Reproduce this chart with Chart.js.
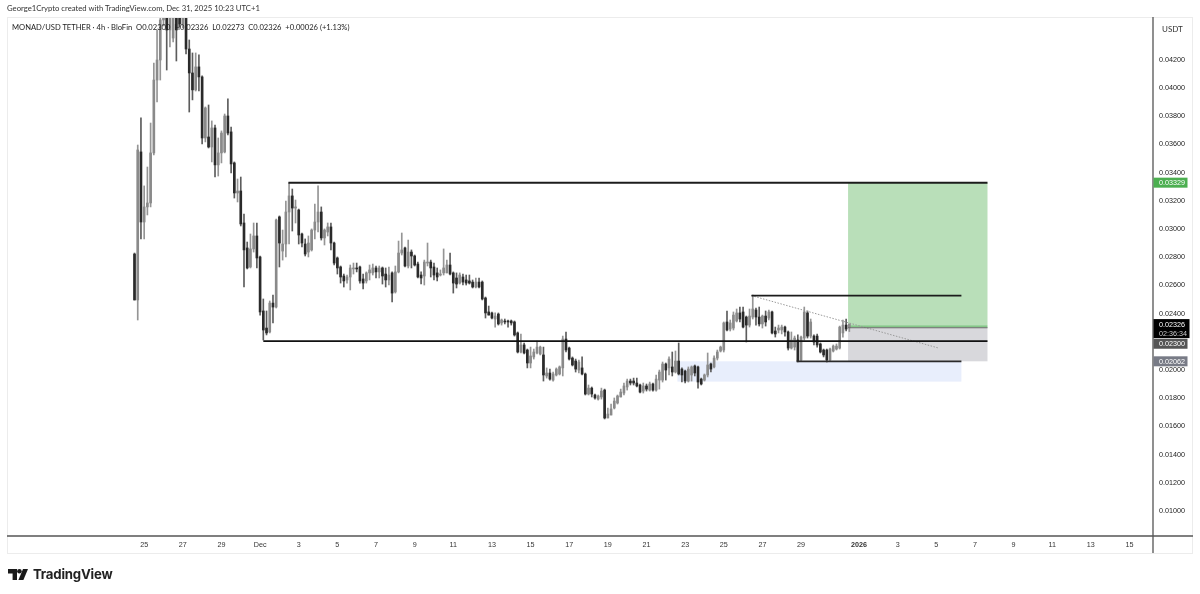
<!DOCTYPE html>
<html>
<head>
<meta charset="utf-8">
<title>MONAD/USD TETHER 4h</title>
<script src="https://cdn.jsdelivr.net/npm/chart.js@4"></script>
<style>
  html, body { margin: 0; padding: 0; background: #fff; }
  #wrap { position: relative; width: 1200px; height: 594px; overflow: hidden; font-family: "Lato", sans-serif; color: #333; }
  #wrap canvas { position: absolute; left: 0; top: 0; }
  .credit { position: absolute; left: 7px; top: 3px; line-height: 10px; font-size: 7.7px; white-space: nowrap; color: #333; }
  .legend { position: absolute; left: 12px; top: 22px; line-height: 10px; font-size: 7.6px; white-space: nowrap; color: #222; }
  .unit { position: absolute; left: 1162px; top: 24px; line-height: 10px; font-size: 8px; color: #333; }
  .brand { position: absolute; left: 33px; top: 566px; line-height: 17px; font-size: 13.2px; font-weight: 700; color: #222; font-family: "Inter", sans-serif; letter-spacing: -0.2px; }
  #logo { position: absolute; left: 8px; top: 569px; }
</style>
</head>
<body>
<div id="wrap">
  <canvas id="chart" width="1200" height="594"></canvas>
  <div class="credit">George1Crypto created with TradingView.com, Dec 31, 2025 10:23 UTC+1</div>
  <div class="legend">MONAD/USD TETHER · 4h · BloFin&nbsp; O0.02300&nbsp; H0.02326&nbsp; L0.02273&nbsp; C0.02326&nbsp; +0.00026 (+1.13%)</div>
  <div class="unit">USDT</div>
  <svg id="logo" width="20" height="11" viewBox="0 0 20 11"><path fill="#1a1a1a" d="M0 0h9v11H4.6V4.4H0z"/><circle cx="11.4" cy="2.3" r="2.3" fill="#1a1a1a"/><path fill="#1a1a1a" d="M15 0h5l-4.6 11h-5z"/></svg>
  <div class="brand">TradingView</div>
</div>
<script>
// 4h candles, first candle = Nov 24 12:00
const opens = [0.02823,0.02497,0.03547,0.03050,0.03157,0.03185,0.03540,0.04057,0.04199,0.04483,0.04590,0.04412,0.04355,0.04554,0.04554,0.04455,0.04526,0.04277,0.04107,0.03987,0.04150,0.04079,0.03646,0.03653,0.03582,0.03717,0.03455,0.03540,0.03547,0.03802,0.03689,0.03469,0.03256,0.03270,0.03043,0.02866,0.02731,0.02859,0.02951,0.02802,0.02419,0.02298,0.02270,0.02475,0.02447,0.03086,0.02844,0.02894,0.03121,0.03235,0.03149,0.03135,0.02965,0.02894,0.02837,0.02852,0.02993,0.03050,0.03121,0.02937,0.02979,0.03015,0.02901,0.02795,0.02731,0.02667,0.02639,0.02660,0.02717,0.02724,0.02731,0.02646,0.02632,0.02689,0.02689,0.02724,0.02696,0.02724,0.02681,0.02639,0.02689,0.02554,0.02696,0.02830,0.02866,0.02738,0.02837,0.02809,0.02752,0.02674,0.02667,0.02759,0.02766,0.02731,0.02689,0.02674,0.02689,0.02689,0.02745,0.02689,0.02653,0.02617,0.02660,0.02639,0.02632,0.02624,0.02589,0.02624,0.02624,0.02511,0.02412,0.02405,0.02362,0.02397,0.02334,0.02348,0.02348,0.02348,0.02341,0.02263,0.02128,0.02178,0.02142,0.02050,0.02093,0.02121,0.02114,0.02107,0.01958,0.01979,0.01929,0.01965,0.01972,0.02015,0.02220,0.02156,0.02085,0.02064,0.02000,0.02015,0.01972,0.01830,0.01872,0.01823,0.01794,0.01809,0.01858,0.01660,0.01681,0.01731,0.01766,0.01809,0.01837,0.01880,0.01922,0.01922,0.01908,0.01894,0.01851,0.01887,0.01858,0.01901,0.01858,0.01929,0.01929,0.02043,0.02015,0.02022,0.01986,0.02064,0.02007,0.01993,0.01922,0.01965,0.02029,0.02022,0.01936,0.01929,0.01965,0.02043,0.02022,0.02085,0.02135,0.02142,0.02341,0.02291,0.02298,0.02348,0.02405,0.02412,0.02376,0.02319,0.02376,0.02426,0.02376,0.02327,0.02383,0.02369,0.02412,0.02277,0.02284,0.02284,0.02305,0.02270,0.02156,0.02163,0.02213,0.02071,0.02227,0.02405,0.02241,0.02241,0.02241,0.02185,0.02142,0.02142,0.02071,0.02135,0.02149,0.02156,0.02263,0.02319,0.02300];
const highs = [0.02830,0.03596,0.03788,0.03306,0.03440,0.03752,0.04178,0.04412,0.04696,0.04696,0.04696,0.04625,0.04625,0.04660,0.04625,0.04590,0.04625,0.04341,0.04249,0.04249,0.04235,0.04086,0.03866,0.03880,0.03767,0.03738,0.03646,0.03696,0.03816,0.03923,0.03724,0.03476,0.03355,0.03369,0.03107,0.02908,0.02965,0.03043,0.03043,0.02809,0.02504,0.02419,0.02490,0.02532,0.03071,0.03093,0.02993,0.03199,0.03327,0.03284,0.03206,0.03142,0.02972,0.02930,0.02951,0.03001,0.03178,0.03306,0.03157,0.03001,0.03043,0.03043,0.02908,0.02802,0.02738,0.02681,0.02674,0.02745,0.02759,0.02759,0.02738,0.02681,0.02696,0.02745,0.02752,0.02738,0.02738,0.02731,0.02724,0.02731,0.02696,0.02738,0.02915,0.02972,0.02873,0.02922,0.02852,0.02816,0.02766,0.02696,0.02780,0.02901,0.02780,0.02759,0.02724,0.02710,0.02859,0.02780,0.02830,0.02696,0.02689,0.02689,0.02681,0.02674,0.02674,0.02639,0.02653,0.02653,0.02632,0.02518,0.02454,0.02412,0.02405,0.02405,0.02362,0.02362,0.02355,0.02355,0.02348,0.02270,0.02256,0.02192,0.02149,0.02163,0.02149,0.02206,0.02170,0.02163,0.02015,0.02007,0.01986,0.02015,0.02029,0.02241,0.02270,0.02163,0.02093,0.02078,0.02071,0.02093,0.01979,0.01894,0.01880,0.01830,0.01823,0.01872,0.01865,0.01731,0.01759,0.01802,0.01823,0.01865,0.01908,0.01936,0.01936,0.01943,0.01943,0.01901,0.01908,0.01901,0.01915,0.01908,0.01965,0.02000,0.02057,0.02050,0.02093,0.02128,0.02135,0.02192,0.02015,0.02000,0.02022,0.02029,0.02036,0.02029,0.01943,0.01972,0.02121,0.02050,0.02100,0.02142,0.02170,0.02341,0.02419,0.02355,0.02412,0.02433,0.02447,0.02447,0.02383,0.02433,0.02532,0.02440,0.02447,0.02390,0.02419,0.02426,0.02419,0.02305,0.02319,0.02319,0.02312,0.02277,0.02270,0.02241,0.02249,0.02241,0.02447,0.02419,0.02362,0.02249,0.02256,0.02192,0.02149,0.02149,0.02156,0.02178,0.02185,0.02312,0.02355,0.02362,0.02326];
const lows = [0.02497,0.02355,0.02930,0.02930,0.03100,0.03157,0.03525,0.03901,0.04057,0.04441,0.04128,0.04292,0.04327,0.04192,0.04433,0.04426,0.04242,0.03830,0.03916,0.03979,0.03979,0.03603,0.03618,0.03575,0.03476,0.03369,0.03376,0.03469,0.03540,0.03667,0.03398,0.03220,0.03192,0.03022,0.02589,0.02717,0.02724,0.02837,0.02724,0.02390,0.02213,0.02249,0.02263,0.02334,0.02440,0.02731,0.02780,0.02802,0.02894,0.02986,0.03043,0.02894,0.02873,0.02809,0.02802,0.02844,0.02930,0.02979,0.02922,0.02887,0.02951,0.02852,0.02745,0.02681,0.02617,0.02589,0.02617,0.02568,0.02681,0.02696,0.02617,0.02575,0.02617,0.02639,0.02674,0.02653,0.02653,0.02610,0.02589,0.02603,0.02483,0.02546,0.02689,0.02816,0.02731,0.02724,0.02724,0.02738,0.02653,0.02610,0.02603,0.02738,0.02660,0.02639,0.02632,0.02667,0.02674,0.02689,0.02674,0.02546,0.02582,0.02610,0.02603,0.02603,0.02610,0.02582,0.02582,0.02582,0.02497,0.02369,0.02390,0.02362,0.02305,0.02319,0.02319,0.02327,0.02305,0.02319,0.02241,0.02121,0.02121,0.02114,0.02015,0.02015,0.02078,0.02114,0.02107,0.01922,0.01943,0.01929,0.01922,0.01958,0.01965,0.01958,0.02128,0.02071,0.02029,0.01986,0.01979,0.01965,0.01823,0.01823,0.01809,0.01794,0.01787,0.01794,0.01653,0.01660,0.01681,0.01724,0.01759,0.01809,0.01823,0.01858,0.01894,0.01894,0.01880,0.01837,0.01837,0.01851,0.01851,0.01851,0.01851,0.01865,0.01915,0.01929,0.01965,0.01958,0.01979,0.01965,0.01915,0.01908,0.01915,0.01922,0.01958,0.01872,0.01894,0.01922,0.01951,0.01986,0.02015,0.02071,0.02128,0.02128,0.02277,0.02277,0.02284,0.02341,0.02341,0.02298,0.02199,0.02305,0.02362,0.02319,0.02312,0.02298,0.02312,0.02355,0.02256,0.02234,0.02263,0.02256,0.02241,0.02142,0.02149,0.02142,0.02057,0.02064,0.02213,0.02227,0.02227,0.02178,0.02163,0.02121,0.02093,0.02057,0.02064,0.02128,0.02142,0.02149,0.02234,0.02277,0.02273];
const closes = [0.02497,0.03561,0.03050,0.03157,0.03185,0.03540,0.04057,0.04199,0.04483,0.04590,0.04412,0.04554,0.04554,0.04412,0.04455,0.04526,0.04277,0.04107,0.03987,0.04150,0.04079,0.03646,0.03859,0.03582,0.03717,0.03455,0.03540,0.03681,0.03802,0.03681,0.03462,0.03256,0.03270,0.03036,0.02852,0.02724,0.02859,0.02951,0.02795,0.02412,0.02284,0.02263,0.02475,0.02447,0.03064,0.02901,0.02894,0.03121,0.03235,0.03149,0.03157,0.02958,0.02901,0.02823,0.02901,0.02993,0.03050,0.03121,0.02937,0.02993,0.03015,0.02901,0.02759,0.02724,0.02660,0.02632,0.02660,0.02724,0.02724,0.02717,0.02632,0.02617,0.02689,0.02710,0.02724,0.02696,0.02724,0.02667,0.02639,0.02674,0.02546,0.02696,0.02830,0.02852,0.02738,0.02837,0.02809,0.02745,0.02660,0.02653,0.02766,0.02766,0.02724,0.02674,0.02660,0.02681,0.02724,0.02745,0.02681,0.02617,0.02610,0.02674,0.02624,0.02617,0.02617,0.02589,0.02624,0.02589,0.02504,0.02405,0.02390,0.02369,0.02383,0.02327,0.02355,0.02341,0.02341,0.02334,0.02249,0.02128,0.02178,0.02121,0.02050,0.02100,0.02128,0.02163,0.02163,0.01965,0.01979,0.01936,0.01972,0.02007,0.02022,0.02220,0.02142,0.02078,0.02036,0.02007,0.02057,0.01972,0.01830,0.01872,0.01830,0.01802,0.01816,0.01851,0.01660,0.01688,0.01724,0.01780,0.01816,0.01844,0.01887,0.01922,0.01908,0.01908,0.01887,0.01844,0.01887,0.01865,0.01901,0.01858,0.01936,0.01986,0.02043,0.02000,0.02078,0.01986,0.02064,0.01972,0.01965,0.01922,0.02007,0.02022,0.01979,0.01915,0.01901,0.01965,0.02036,0.02007,0.02085,0.02128,0.02163,0.02334,0.02284,0.02334,0.02390,0.02405,0.02362,0.02305,0.02319,0.02383,0.02433,0.02376,0.02327,0.02383,0.02341,0.02412,0.02263,0.02256,0.02298,0.02305,0.02270,0.02156,0.02213,0.02227,0.02064,0.02234,0.02412,0.02241,0.02341,0.02199,0.02178,0.02128,0.02107,0.02071,0.02149,0.02170,0.02170,0.02305,0.02319,0.02291,0.02326];

// axis ticks
const priceTicks = [0.010,0.012,0.014,0.016,0.018,0.020,0.024,0.026,0.028,0.030,0.032,0.034,0.036,0.038,0.040,0.042];
const timeTicks = [3,15,27,39,51,63,75,87,99,111,123,135,147,159,171,183,195,207,225,237,249,261,273,285,297,309];
const timeLabels = ['25','27','29','Dec','3','5','7','9','11','13','15','17','19','21','23','25','27','29','2026','3','5','7','9','11','13','15'];

// drawings on the chart: candle index from/to and prices
const levelFrom = [47.8, 191.6, 40, 205.6, 221.6];
const levelTo = [264.9, 256.8, 264.9, 256.8, 264.9];
const levelPrices = [0.03329, 0.02528, 0.02205, 0.02062, 0.02300];
const trendFrom = [191.6, 0.02528];
const trendTo = [249.7, 0.02156];
const zoneFrom = [168.6, 221.6, 221.6, 221.6];
const zoneTo = [256.8, 264.9, 264.9, 264.9];
const zoneTop = [0.02062, 0.03329, 0.02318, 0.02300];
const zoneBottom = [0.01918, 0.02318, 0.02300, 0.02062];
const tagTexts = ['0.03329', '0.02300', '0.02062', '0.02326'];
const tagPrices = [0.03329, 0.02300, 0.02062, 0.02326];
const countdown = '02:36:34';

// styles
const zoneColors = ['#e8eefc', '#b9dfb9', '#85c788', '#d8d8dc'];
const levelWidths = [2, 1.8, 1.6, 1.8, 1];
const levelColors = ['#1c1c1c', '#1c1c1c', '#111111', '#2a2a2a', '#6a6a6a'];
const tagColors = ['#4caf50', '#555555', '#787b86', '#000000'];
const tagShifts = [0, 16, 0, 0];
const UP = '#8a8a8a', DOWN = '#2a2a2a', UP_WICK = '#959595', DOWN_WICK = '#5c5c5c';
const FONT = '"Liberation Sans", sans-serif';

const candleIdx = opens.map((_, i) => i);
const isUp = candleIdx.map(i => closes[i] >= opens[i]);

// Zones sit behind the candles, tags on top of the price axis
const overlayPlugin = {
  id: 'overlay',
  beforeDatasetsDraw(chart) {
    const { ctx, chartArea, scales: { x, y } } = chart;
    ctx.save();
    ctx.beginPath();
    ctx.rect(chartArea.left, chartArea.top, chartArea.width, chartArea.height);
    ctx.clip();
    zoneColors.forEach((color, i) => {
      const l = x.getPixelForValue(zoneFrom[i]), r = x.getPixelForValue(zoneTo[i]);
      const t = y.getPixelForValue(zoneTop[i]), b = y.getPixelForValue(zoneBottom[i]);
      ctx.fillStyle = color;
      ctx.fillRect(l, t, r - l, b - t);
    });
    ctx.restore();
  },
  afterDraw(chart) {
    const { ctx, chartArea, scales: { y } } = chart;
    // faint frame around the chart
    ctx.save();
    ctx.strokeStyle = '#ececec';
    ctx.lineWidth = 1;
    ctx.strokeRect(7.5, chartArea.top + 0.5, 1185, 553 - chartArea.top);
    ctx.strokeStyle = '#555';
    ctx.lineWidth = 1.3;
    ctx.beginPath();
    ctx.moveTo(7, chartArea.bottom); ctx.lineTo(1193, chartArea.bottom);
    ctx.moveTo(chartArea.right, chartArea.top); ctx.lineTo(chartArea.right, 553);
    ctx.stroke();
    ctx.textAlign = 'left';
    ctx.textBaseline = 'middle';
    tagTexts.forEach((text, i) => {
      const cy = y.getPixelForValue(tagPrices[i]) + tagShifts[i];
      const isLast = i === tagTexts.length - 1;
      ctx.fillStyle = tagColors[i];
      ctx.fillRect(chartArea.right + 0.5, cy - 5, isLast ? 36 : 34, isLast ? 19 : 10);
      ctx.fillStyle = '#fff';
      ctx.font = '7.2px ' + FONT;
      ctx.fillText(text, 1159, cy + 0.5);
      if (isLast) {
        ctx.fillStyle = '#ccc';
        ctx.fillText(countdown, 1159, cy + 9.5);
      }
    });
    ctx.restore();
  }
};

new Chart(document.getElementById('chart'), {
  type: 'bar',
  data: {
    datasets: [
      ...levelPrices.map((p, i) => ({
        type: 'line', order: 0,
        data: [{ x: levelFrom[i], y: p }, { x: levelTo[i], y: p }],
        borderColor: levelColors[i], borderWidth: levelWidths[i], pointRadius: 0
      })),
      {
        type: 'line', order: 0,
        data: [{ x: trendFrom[0], y: trendFrom[1] }, { x: trendTo[0], y: trendTo[1] }],
        borderColor: '#9a9a9a', borderWidth: 1, borderDash: [1.5, 1.5], pointRadius: 0
      },
      {
        order: 1, grouped: false, barThickness: 2,
        data: candleIdx.map(i => ({ x: i, y: [opens[i], closes[i]] })),
        backgroundColor: candleIdx.map(i => isUp[i] ? UP : DOWN)
      },
      {
        order: 2, grouped: false, barThickness: 1,
        data: candleIdx.map(i => ({ x: i, y: [lows[i], highs[i]] })),
        backgroundColor: candleIdx.map(i => isUp[i] ? UP_WICK : DOWN_WICK)
      }
    ]
  },
  options: {
    responsive: false,
    animation: false,
    layout: { padding: { left: 7, right: 7, top: 17, bottom: 41 } },
    plugins: { legend: { display: false }, tooltip: { enabled: false } },
    scales: {
      x: {
        type: 'linear', offset: false, min: -39.6, max: 316.3,
        grid: { display: false, drawTicks: false, tickLength: 0 },
        border: { display: false },
        afterBuildTicks: s => { s.ticks = timeTicks.map(v => ({ value: v })); },
        afterFit: s => { s.height = 17; },
        ticks: {
          autoSkip: false, maxRotation: 0, padding: 5, color: '#333',
          font: c => ({ family: FONT, size: 7.2, weight: c.index === 18 ? 'bold' : 'normal' }),
          callback: (v, i) => timeLabels[i]
        }
      },
      y: {
        position: 'right', min: 0.00823, max: 0.04504,
        grid: { display: false, drawTicks: false, tickLength: 0 },
        border: { display: false },
        afterBuildTicks: s => { s.ticks = priceTicks.map(v => ({ value: v })); },
        afterFit: s => { s.width = 40; },
        ticks: {
          padding: 6, color: '#222', font: { family: FONT, size: 7.2 },
          callback: v => v.toFixed(5)
        }
      }
    }
  },
  plugins: [overlayPlugin]
});
</script>
</body>
</html>
